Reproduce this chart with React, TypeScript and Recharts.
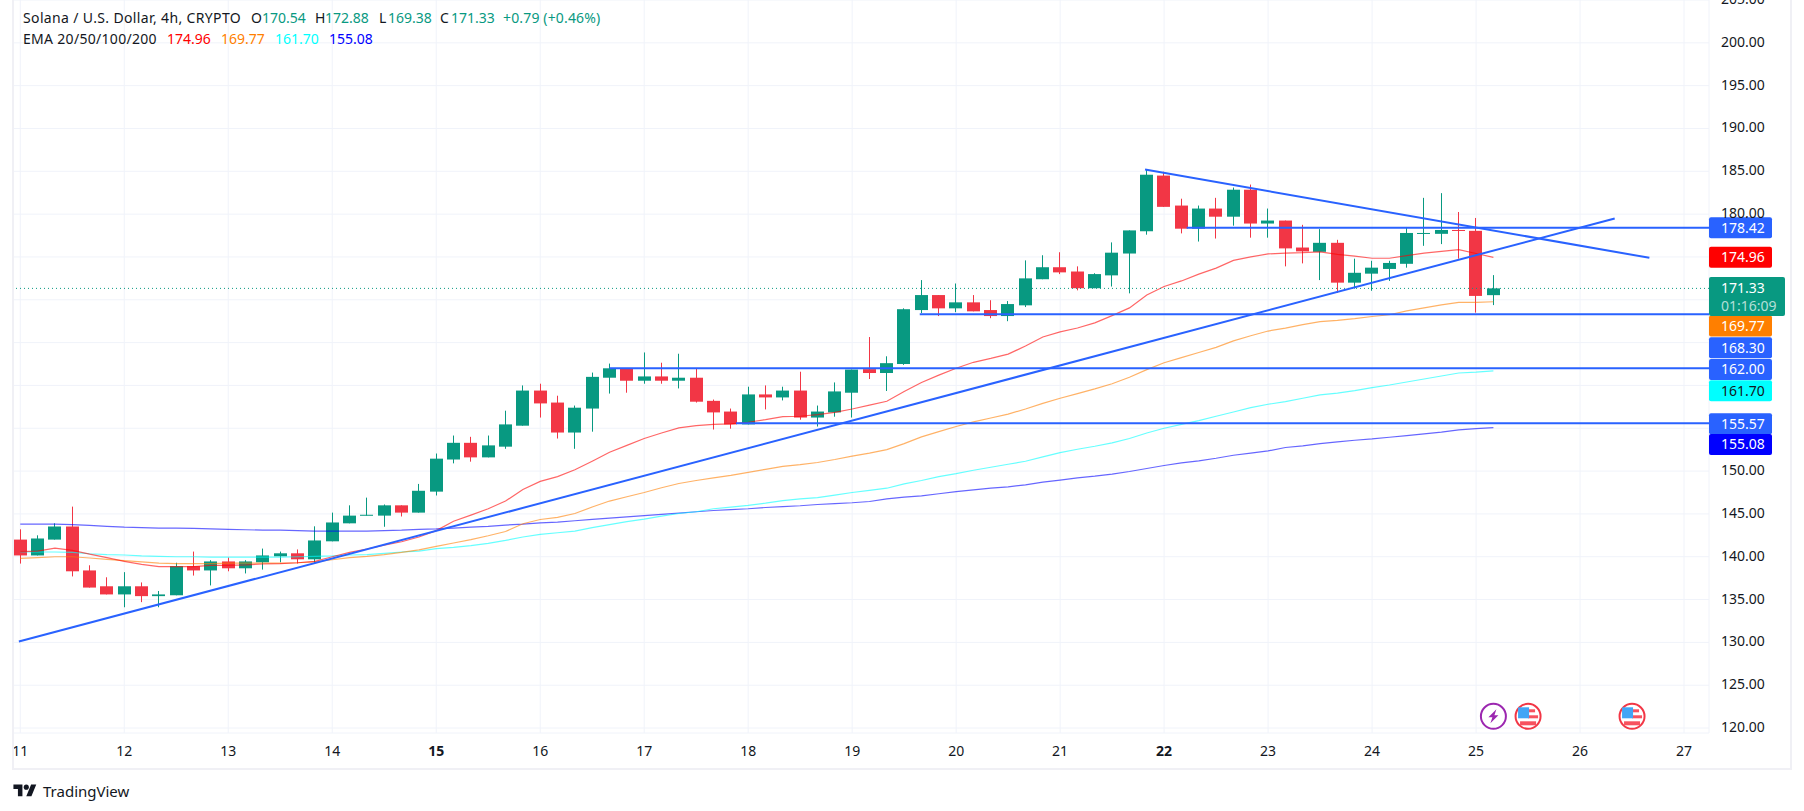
import React from "react";
import {
  ComposedChart,
  Bar,
  Line,
  XAxis,
  YAxis,
  CartesianGrid,
  ReferenceLine,
  ReferenceDot,
} from "recharts";

const opens = [
  142.0, 140.15, 142.0, 143.53, 138.4, 136.55, 135.6, 136.55, 135.4, 135.5,
  138.9, 138.4, 139.45, 138.65, 139.35, 140.05, 140.4, 139.7, 141.8, 143.9,
  144.8, 144.8, 146.0, 145.15, 147.6, 151.35, 153.3, 151.6, 152.85, 155.3,
  159.4, 158.0, 154.5, 157.3, 160.9, 162.0, 160.55, 161.05, 160.55, 160.9,
  158.2, 156.95, 155.45, 158.95, 158.6, 159.4, 156.25, 156.85, 159.15, 161.9,
  161.45, 162.5, 168.8, 170.55, 169.0, 169.7, 168.8, 168.1, 169.35, 172.4,
  173.8, 173.3, 171.35, 172.85, 175.4, 178.0, 184.5, 181.0, 178.3, 180.65,
  179.7, 182.85, 178.9, 179.25, 176.1, 175.6, 176.65, 172.0, 173.05, 173.6,
  174.2, 177.75, 177.7, 178.15, 178.05, 170.54,
];
const highs = [
  143.2, 142.5, 143.9, 145.85, 139.0, 137.6, 138.2, 137.0, 136.0, 139.3,
  140.6, 139.6, 139.9, 139.6, 140.95, 140.6, 140.85, 143.55, 145.15, 146.0,
  146.9, 146.1, 146.0, 148.5, 152.05, 154.15, 154.0, 154.15, 157.05, 160.0,
  160.2, 158.8, 157.65, 161.5, 162.55, 162.0, 163.85, 162.65, 163.7, 162.0,
  158.35, 157.3, 159.85, 160.0, 159.85, 161.6, 157.65, 160.35, 161.85, 165.65,
  163.4, 169.0, 172.3, 170.55, 171.9, 170.55, 169.95, 169.85, 174.6, 175.2,
  175.55, 173.9, 173.1, 176.7, 178.1, 185.2, 184.95, 181.8, 181.0, 181.9,
  183.1, 183.45, 180.65, 179.25, 178.75, 178.25, 177.0, 174.8, 174.55, 174.55,
  178.5, 181.9, 182.45, 180.25, 179.55, 172.88,
];
const lows = [
  139.2, 140.15, 142.0, 137.7, 136.4, 135.6, 134.1, 134.7, 134.1, 135.5,
  137.8, 136.65, 138.3, 138.05, 138.5, 139.35, 139.2, 139.2, 141.8, 143.9,
  144.8, 143.5, 144.7, 145.15, 147.15, 150.9, 151.1, 151.6, 152.6, 155.3,
  156.25, 153.8, 152.6, 154.6, 159.05, 159.15, 160.2, 160.2, 159.65, 158.0,
  154.85, 154.95, 155.45, 157.2, 158.25, 156.0, 155.2, 156.35, 156.25, 160.75,
  159.35, 162.4, 168.45, 168.1, 168.55, 168.65, 167.85, 167.5, 169.15, 172.4,
  173.0, 171.1, 171.35, 171.55, 170.75, 177.6, 180.85, 177.75, 176.8, 177.15,
  178.65, 177.25, 177.25, 173.9, 174.25, 172.3, 170.8, 171.3, 171.05, 172.2,
  173.75, 176.3, 176.5, 174.8, 168.5, 169.38,
];
const closes = [
  140.15, 142.13, 143.53, 138.3, 136.4, 135.6, 136.55, 135.4, 135.6, 138.9,
  138.4, 139.45, 138.65, 139.45, 140.15, 140.4, 139.7, 141.9, 144.0, 144.8,
  144.9, 146.0, 145.15, 147.7, 151.45, 153.3, 151.6, 153.0, 155.45, 159.4,
  157.9, 154.5, 157.4, 161.0, 162.0, 160.55, 161.05, 160.55, 160.9, 158.1,
  156.85, 155.45, 158.95, 158.6, 159.4, 156.25, 156.95, 159.3, 161.85, 161.45,
  162.6, 168.9, 170.55, 169.0, 169.7, 168.65, 168.1, 169.5, 172.5, 173.8,
  173.2, 171.35, 173.0, 175.5, 178.1, 184.6, 180.85, 178.3, 180.65, 179.7,
  182.85, 178.9, 179.25, 176.0, 175.65, 176.65, 172.0, 173.15, 173.75, 174.3,
  177.8, 177.8, 178.15, 178.05, 170.45, 171.33,
];

const ema20 = [
  140.6, 140.65, 141.0, 140.75, 140.3, 139.9, 139.45, 139.1, 138.85, 138.85,
  138.85, 139.0, 139.0, 139.05, 139.15, 139.2, 139.3, 139.45, 140.0, 140.5,
  140.9, 141.35, 141.75, 142.3, 143.05, 144.15, 144.85, 145.6, 146.5, 147.85,
  148.8, 149.35, 150.15, 151.15, 152.2, 153.0, 153.8, 154.45, 155.05, 155.3,
  155.45, 155.5, 155.7, 156.0, 156.35, 156.4, 156.6, 156.85, 157.25, 157.7,
  158.15, 159.3, 160.35, 161.2, 162.0, 162.7, 163.15, 163.65, 164.6, 165.65,
  166.25, 166.7, 167.3, 168.15, 169.05, 170.55, 171.55, 172.2, 173.0, 173.7,
  174.6, 175.0, 175.35, 175.45, 175.5, 175.6, 175.3, 175.1, 174.85, 174.85,
  175.15, 175.45, 175.65, 175.85, 175.4, 174.96,
];
const ema50 = [
  139.8, 139.9, 140.0, 140.0, 139.85, 139.7, 139.55, 139.4, 139.25, 139.2,
  139.2, 139.2, 139.25, 139.25, 139.25, 139.25, 139.3, 139.4, 139.65, 139.9,
  140.05, 140.25, 140.5, 140.8, 141.2, 141.6, 142.0, 142.45, 142.95, 143.85,
  144.35, 144.6, 145.05, 145.8, 146.5, 147.0, 147.5, 148.05, 148.55, 148.9,
  149.2, 149.5, 149.85, 150.2, 150.55, 150.75, 151.0, 151.35, 151.75, 152.1,
  152.5, 153.2, 154.0, 154.6, 155.2, 155.75, 156.2, 156.65, 157.25, 157.9,
  158.5, 159.05, 159.6, 160.2, 160.95, 161.85, 162.65, 163.25, 163.85, 164.45,
  165.2, 165.8, 166.35, 166.7, 167.1, 167.45, 167.6, 167.8, 168.05, 168.25,
  168.7, 169.05, 169.4, 169.7, 169.7, 169.77,
];
const ema100 = [
  140.55, 140.55, 140.55, 140.5, 140.35, 140.25, 140.2, 140.1, 140.05, 140.0,
  140.0, 139.95, 139.95, 139.95, 139.95, 139.95, 140.0, 140.05, 140.1, 140.2,
  140.25, 140.4, 140.55, 140.65, 140.95, 141.1, 141.3, 141.55, 141.9, 142.3,
  142.6, 142.8, 143.0, 143.4, 143.75, 144.1, 144.4, 144.75, 145.05, 145.25,
  145.6, 145.8, 146.0, 146.25, 146.55, 146.75, 146.9, 147.2, 147.5, 147.75,
  148.0, 148.5, 148.9, 149.35, 149.7, 150.1, 150.45, 150.8, 151.15, 151.65,
  152.15, 152.55, 152.9, 153.3, 153.8, 154.45, 155.0, 155.45, 155.9, 156.4,
  156.9, 157.4, 157.8, 158.1, 158.5, 158.9, 159.1, 159.4, 159.75, 160.05,
  160.4, 160.75, 161.1, 161.45, 161.55, 161.7,
];
const ema200 = [
  143.8, 143.8, 143.8, 143.75, 143.65, 143.55, 143.45, 143.4, 143.35, 143.35,
  143.3, 143.25, 143.2, 143.15, 143.1, 143.1, 143.05, 143.0, 143.0, 143.0,
  143.0, 143.05, 143.1, 143.2, 143.25, 143.35, 143.45, 143.55, 143.7, 143.8,
  143.95, 144.05, 144.2, 144.35, 144.5, 144.65, 144.8, 144.95, 145.1, 145.25,
  145.4, 145.5, 145.6, 145.75, 145.85, 145.95, 146.1, 146.2, 146.3, 146.45,
  146.75, 146.95, 147.1, 147.35, 147.6, 147.8, 148.0, 148.15, 148.4, 148.7,
  148.95, 149.2, 149.4, 149.65, 149.95, 150.3, 150.65, 150.95, 151.2, 151.5,
  151.85, 152.1, 152.35, 152.75, 152.95, 153.2, 153.4, 153.6, 153.75, 153.95,
  154.15, 154.35, 154.55, 154.8, 154.95, 155.08,
];

const dayLabels = [11, 12, 13, 14, 15, 16, 17, 18, 19, 20, 21, 22, 23, 24, 25, 26, 27];
const boldDays = [15, 22];
const priceTicks = [
  120, 125, 130, 135, 140, 145, 150, 155, 160, 165, 170, 175, 180, 185, 190, 195, 200, 205,
];
// these axis labels sit behind the price tags in the reference
const coveredTicks = [155, 160, 165, 170, 175];

// drawn levels and trend lines, in candle index / price
const levelStarts = [67.3, 51.9, 34, 41.3];
const levelPrices = [178.42, 168.3, 162.0, 155.57];
const trendUp = [
  { x: -0.08, y: 130.1 },
  { x: 92, y: 179.5 },
];
const trendDown = [
  { x: 64.9, y: 185.2 },
  { x: 94, y: 174.9 },
];

// axis tags: the anchor is where TradingView stacked the tag, not always its price
const tagAnchors = [178.4, 174.96, 166.93, 164.39, 161.87, 159.38, 155.54, 153.11];
const tagTexts = ["178.42", "174.96", "169.77", "168.30", "162.00", "161.70", "155.57", "155.08"];
const tagColors = ["#2962ff", "#ff0000", "#ff7f00", "#2962ff", "#2962ff", "#00ffff", "#2962ff", "#0000ff"];
const lastPrice = 171.33;
const lastTagAnchor = 170.37;
const countdown = "01:16:09";

const eventIndex = 85;
const flagIndexes = [87, 93];
const iconPrice = 121.37;

const UP = "#089981";
const DOWN = "#f23645";
const GRID = "#f0f3fa";
const BLUE = "#2962ff";
const FONT = "'Noto Sans', sans-serif";
const TEXT = "#131722";

const CHART_W = 1804;
const CHART_H = 811;
const X_MIN = -0.42;
const X_MAX = 97.44;

const rows = opens.map((open, i) => ({
  i,
  open,
  high: highs[i],
  low: lows[i],
  close: closes[i],
  range: [lows[i], highs[i]],
  ema20: ema20[i],
  ema50: ema50[i],
  ema100: ema100[i],
  ema200: ema200[i],
}));

const Candle = (props: any) => {
  const { x, y, width, height, payload } = props;
  const k = height / (payload.high - payload.low);
  const up = payload.close >= payload.open;
  const color = up ? UP : DOWN;
  const top = y + (payload.high - Math.max(payload.open, payload.close)) * k;
  const bodyH = Math.max(Math.abs(payload.open - payload.close) * k, 1);
  const mid = Math.floor(x + width / 2) + 0.5;
  return (
    <g>
      <line x1={mid} x2={mid} y1={y} y2={y + height} stroke={color} strokeWidth={1} />
      <rect x={mid - 6.5} y={top} width={13} height={bodyH} fill={color} />
    </g>
  );
};

const DayTick = (props: any) => {
  const { x, y, payload } = props;
  const day = dayLabels[Math.round(payload.value / 6)];
  return (
    <text
      x={x}
      y={y + 21}
      textAnchor="middle"
      fontFamily={FONT}
      fontSize={14}
      fontWeight={boldDays.includes(day) ? 700 : 400}
      fill={TEXT}
    >
      {day}
    </text>
  );
};

const PriceTick = (props: any) => {
  const { y, payload } = props;
  if (coveredTicks.includes(payload.value)) return <g />;
  // 180.00 is half hidden by the 178.42 tag
  const cut = payload.value === 180;
  return (
    <g>
      {cut && (
        <clipPath id="cut180">
          <rect x={1700} y={y - 12} width={100} height={16} />
        </clipPath>
      )}
      <text
        x={1721}
        y={y + 4}
        fontFamily={FONT}
        fontSize={14}
        fill={TEXT}
        clipPath={cut ? "url(#cut180)" : undefined}
      >
        {payload.value.toFixed(2)}
      </text>
    </g>
  );
};

const PriceTag = (props: any) => {
  const { cx, cy, text, color } = props;
  return (
    <g>
      <rect x={cx} y={cy - 10.5} width={63} height={21} rx={2} fill={color} />
      <text
        x={cx + 12}
        y={cy + 5}
        fontFamily={FONT}
        fontSize={14}
        fill={color === "#00ffff" ? TEXT : "#ffffff"}
      >
        {text}
      </text>
    </g>
  );
};

const LastTag = (props: any) => {
  const { cx, cy } = props;
  return (
    <g>
      <rect x={cx} y={cy - 19.5} width={76} height={39} rx={2} fill={UP} />
      <text x={cx + 12} y={cy - 4} fontFamily={FONT} fontSize={14} fill="#ffffff">
        {lastPrice.toFixed(2)}
      </text>
      <text x={cx + 12} y={cy + 14} fontFamily={FONT} fontSize={14} fill="#ffffff" fillOpacity={0.7}>
        {countdown}
      </text>
    </g>
  );
};

const BoltIcon = (props: any) => {
  const { cx, cy } = props;
  return (
    <g>
      <circle cx={cx} cy={cy} r={12.5} fill="#fff" stroke="#9c27b0" strokeWidth={2} />
      <path
        d={`M${cx + 3} ${cy - 7} L${cx - 5} ${cy + 1} L${cx - 1} ${cy + 1} L${cx - 3} ${cy + 7} L${cx + 5} ${cy - 1} L${cx + 1} ${cy - 1} Z`}
        fill="#9c27b0"
      />
    </g>
  );
};

const FlagIcon = (props: any) => {
  const { cx, cy } = props;
  return (
    <g>
      <circle cx={cx} cy={cy} r={12.5} fill="#fff" stroke={DOWN} strokeWidth={2} />
      <rect x={cx} y={cy - 7} width={7} height={3} fill="#f7525f" />
      <rect x={cx} y={cy - 1} width={10} height={3} fill="#f7525f" />
      <rect x={cx - 8} y={cy + 5} width={16} height={4} fill="#f7525f" />
      <rect x={cx - 10} y={cy - 9} width={11} height={11} fill="#42a5f5" />
    </g>
  );
};

const HeaderText = ({ left, top, color, spacing, children }: any) => (
  <span style={{ position: "absolute", left, top, color: color || TEXT, letterSpacing: spacing }}>
    {children}
  </span>
);

const Header = () => (
  <div
    style={{
      position: "absolute",
      left: 0,
      top: 0,
      fontFamily: FONT,
      fontSize: 14,
      lineHeight: "20px",
      whiteSpace: "pre",
    }}
  >
    <HeaderText left={23} top={8} spacing={0.36}>Solana / U.S. Dollar, 4h, CRYPTO</HeaderText>
    <HeaderText left={251} top={8}>O</HeaderText>
    <HeaderText left={262} top={8} color={UP}>170.54</HeaderText>
    <HeaderText left={315} top={8}>H</HeaderText>
    <HeaderText left={325} top={8} color={UP}>172.88</HeaderText>
    <HeaderText left={379} top={8}>L</HeaderText>
    <HeaderText left={388} top={8} color={UP}>169.38</HeaderText>
    <HeaderText left={440} top={8}>C</HeaderText>
    <HeaderText left={451} top={8} color={UP}>171.33</HeaderText>
    <HeaderText left={503} top={8} color={UP} spacing={0.15}>+0.79 (+0.46%)</HeaderText>
    <HeaderText left={23} top={29} spacing={0.3}>EMA 20/50/100/200</HeaderText>
    <HeaderText left={167} top={29} color="#ff0000">174.96</HeaderText>
    <HeaderText left={221} top={29} color="#ff7f00">169.77</HeaderText>
    <HeaderText left={275} top={29} color="#00ffff">161.70</HeaderText>
    <HeaderText left={329} top={29} color="#0000ff">155.08</HeaderText>
  </div>
);

const Brand = () => (
  <div
    style={{
      position: "absolute",
      left: 13,
      top: 781,
      display: "flex",
      alignItems: "center",
      gap: 6,
      fontFamily: FONT,
      fontSize: 15,
      color: TEXT,
    }}
  >
    <svg width={24} height={18} viewBox="0 0 36 28" fill={TEXT}>
      <path d="M14 22H7V11H0V4h14v18zM28 22h-8l7.5-18h8L28 22z" />
      <circle cx="20" cy="8" r="4" />
    </svg>
    TradingView
  </div>
);

export default function App() {
  return (
    <div
      style={{
        position: "absolute",
        left: 0,
        top: 0,
        width: CHART_W,
        height: CHART_H,
        background: "#fff",
        overflow: "hidden",
      }}
    >
      <ComposedChart
        width={CHART_W}
        height={CHART_H}
        data={rows}
        margin={{ top: 0, right: 0, bottom: 0, left: 13 }}
      >
        <CartesianGrid stroke={GRID} />
        <XAxis
          dataKey="i"
          type="number"
          domain={[X_MIN, X_MAX]}
          allowDataOverflow
          ticks={dayLabels.map((d) => (d - 11) * 6)}
          interval={0}
          axisLine={false}
          tickLine={false}
          tickSize={0}
          height={78}
          tick={<DayTick />}
        />
        <YAxis
          orientation="right"
          type="number"
          domain={[119.42, 205]}
          allowDataOverflow
          ticks={priceTicks}
          interval={0}
          axisLine={false}
          tickLine={false}
          width={95}
          tick={<PriceTick />}
        />
        <Line dataKey="ema200" stroke="#0000ff" strokeOpacity={0.6} strokeWidth={1.2} dot={false} isAnimationActive={false} />
        <Line dataKey="ema100" stroke="#00ffff" strokeOpacity={0.6} strokeWidth={1.2} dot={false} isAnimationActive={false} />
        <Line dataKey="ema50" stroke="#ff7f00" strokeOpacity={0.6} strokeWidth={1.2} dot={false} isAnimationActive={false} />
        <Line dataKey="ema20" stroke="#ff0000" strokeOpacity={0.6} strokeWidth={1.2} dot={false} isAnimationActive={false} />
        <Bar dataKey="range" barSize={13} shape={<Candle />} isAnimationActive={false} />
        <ReferenceLine
          y={lastPrice}
          stroke={UP}
          strokeDasharray="1 3"
          strokeWidth={1}
        />
        {levelPrices.map((price, i) => (
          <ReferenceLine
            key={price}
            segment={[
              { x: levelStarts[i], y: price },
              { x: X_MAX, y: price },
            ]}
            stroke={BLUE}
            strokeWidth={2}
            ifOverflow="visible"
          />
        ))}
        <ReferenceLine segment={trendUp} stroke={BLUE} strokeWidth={2} ifOverflow="visible" />
        <ReferenceLine segment={trendDown} stroke={BLUE} strokeWidth={2} ifOverflow="visible" />
        <ReferenceDot x={eventIndex} y={iconPrice} ifOverflow="visible" shape={<BoltIcon />} />
        {flagIndexes.map((idx) => (
          <ReferenceDot key={idx} x={idx} y={iconPrice} ifOverflow="visible" shape={<FlagIcon />} />
        ))}
        {tagAnchors.map((anchor, i) => (
          <ReferenceDot
            key={tagTexts[i]}
            x={X_MAX}
            y={anchor}
            ifOverflow="visible"
            shape={<PriceTag text={tagTexts[i]} color={tagColors[i]} />}
          />
        ))}
        <ReferenceDot x={X_MAX} y={lastTagAnchor} ifOverflow="visible" shape={<LastTag />} />
      </ComposedChart>
      <div
        style={{
          position: "absolute",
          left: 12,
          top: -2,
          width: 1776,
          height: 768,
          border: "2px solid #f0f0f5",
          pointerEvents: "none",
        }}
      />
      <Header />
      <Brand />
    </div>
  );
}
